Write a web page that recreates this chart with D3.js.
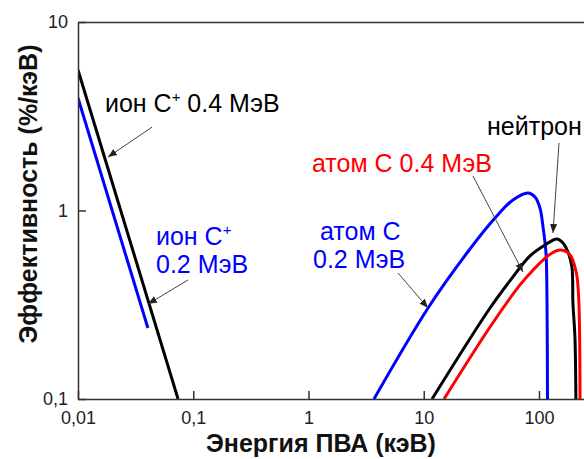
<!DOCTYPE html>
<html>
<head>
<meta charset="utf-8">
<script src="https://cdn.jsdelivr.net/npm/d3@7"></script>
<style>
  body { margin: 0; background: #fff; }
  text { font-family: "Liberation Sans", Arial, sans-serif; }
</style>
</head>
<body>
<div id="chart"></div>
<script>
// Chart data (energy in keV, efficiency in %/keV)
var ion04Energy = [0.01, 0.0738];
var ion04Eff = [5.56, 0.1];

var ion02Energy = [0.01, 0.0404];
var ion02Eff = [3.95, 0.238];

var atom02Energy = [3.7, 10.9, 23.7, 41.5, 59.4, 80.3, 92.3, 102, 108.4, 115, 117.3, 118.5];
var atom02Eff = [0.1, 0.304, 0.595, 0.912, 1.137, 1.239, 1.18, 1.03, 0.818, 0.595, 0.335, 0.1];

var neutronEnergy = [11.8, 37.6, 58.3, 83.6, 112.7, 143, 161.5, 178.5, 193, 197, 205, 209];
var neutronEff = [0.1, 0.304, 0.438, 0.574, 0.656, 0.707, 0.673, 0.602, 0.501, 0.323, 0.213, 0.1];

var atom04Energy = [15.0, 37.6, 68.4, 88.7, 108.4, 129.7, 152, 175, 193, 205, 214, 222, 227];
var atom04Eff = [0.1, 0.241, 0.403, 0.483, 0.546, 0.595, 0.617, 0.602, 0.560, 0.501, 0.444, 0.323, 0.1];

// Tick values
var xTicks = [0.01, 0.1, 1, 10, 100];
var yTicks = [0.1, 1, 10];

// SVG area
var svgWidth = 584;
var svgHeight = 459;

var svg = d3.select("#chart")
  .append("svg")
  .attr("width", svgWidth)
  .attr("height", svgHeight);

// log scales; the x axis runs on past the right edge of the picture
var xScale = d3.scaleLog()
  .domain([0.01, 1000])
  .range([78, 78 + 5 * 115.25]);

var yScale = d3.scaleLog()
  .domain([0.1, 10])
  .range([399, 22]);

var commaFormat = d => String(d).replace(".", ",");

// clip for the curves
svg.append("clipPath")
  .attr("id", "plot-clip")
  .append("rect")
  .attr("x", xScale(0.01))
  .attr("y", yScale(10))
  .attr("width", svgWidth - xScale(0.01))
  .attr("height", yScale(0.1) - yScale(10));

// series
var series = [
  { x: ion04Energy, y: ion04Eff, color: "#000000" },
  { x: ion02Energy, y: ion02Eff, color: "#0000ff" },
  { x: atom02Energy, y: atom02Eff, color: "#0000ff" },
  { x: neutronEnergy, y: neutronEff, color: "#000000" },
  { x: atom04Energy, y: atom04Eff, color: "#ff0000" }
];

var drawLine = d3.line()
  .x(d => xScale(d[0]))
  .y(d => yScale(d[1]))
  .curve(d3.curveCatmullRom.alpha(0.5));

var lineGroup = svg.append("g").attr("clip-path", "url(#plot-clip)");

series.forEach(function(s) {
  lineGroup.append("path")
    .attr("d", drawLine(d3.zip(s.x, s.y)))
    .attr("fill", "none")
    .attr("stroke", s.color)
    .attr("stroke-width", 3)
    .attr("stroke-linejoin", "round");
});

// axes (ticks point inward)
var bottomAxis = d3.axisBottom(xScale)
  .tickValues(xTicks)
  .tickFormat(commaFormat)
  .tickSizeInner(-8)
  .tickSizeOuter(0)
  .tickPadding(12);

var leftAxis = d3.axisLeft(yScale)
  .tickValues(yTicks)
  .tickFormat(commaFormat)
  .tickSizeInner(-8)
  .tickSizeOuter(0)
  .tickPadding(10);

var topAxis = d3.axisTop(xScale)
  .tickValues([])
  .tickSizeOuter(0);

svg.append("g")
  .attr("transform", `translate(0, ${yScale(0.1)})`)
  .call(bottomAxis);

svg.append("g")
  .attr("transform", `translate(${xScale(0.01)}, 0)`)
  .call(leftAxis);

svg.append("g")
  .attr("transform", `translate(0, ${yScale(10)})`)
  .call(topAxis);

svg.selectAll(".domain, .tick line")
  .attr("stroke", "#333")
  .attr("stroke-width", 1.5);

svg.selectAll(".tick text")
  .attr("fill", "#222")
  .style("font-size", "18px")
  .style("font-family", "'Liberation Sans', Arial, sans-serif");

// axis titles
svg.append("text")
  .attr("x", 321)
  .attr("y", 452)
  .attr("text-anchor", "middle")
  .style("font-size", "25px")
  .style("font-weight", "bold")
  .attr("fill", "#111")
  .text("Энергия ПВА (кэВ)");

svg.append("text")
  .attr("transform", "translate(37, 194) rotate(-90)")
  .attr("text-anchor", "middle")
  .style("font-size", "25px")
  .style("font-weight", "bold")
  .attr("fill", "#111")
  .text("Эффективность (%/кэВ)");

// arrowhead marker
svg.append("defs").append("marker")
  .attr("id", "arrow")
  .attr("viewBox", "0 0 10 10")
  .attr("refX", 10)
  .attr("refY", 5)
  .attr("markerWidth", 9)
  .attr("markerHeight", 9)
  .attr("markerUnits", "userSpaceOnUse")
  .attr("orient", "auto")
  .append("path")
  .attr("d", "M0,1 L10,5 L0,9 Z")
  .attr("fill", "#222");

// annotations, placed in data units
var annotations = [
  { lines: [["ион C", "+", " 0.4 МэВ"]], at: [0.01714, 3.33], color: "#000",
    from: [0.0439, 2.77], to: [0.0182, 1.92] },
  { lines: [["ион C", "+", ""], ["0.2 МэВ"]], at: [0.0475, 0.656], color: "#0000ff",
    from: [0.090, 0.428], to: [0.0405, 0.319] },
  { lines: [["атом C"], ["0.2 МэВ"]], at: [1.258, 0.698], color: "#0000ff",
    from: [5.98, 0.466], to: [10.89, 0.304], indent: [0, -7] },
  { lines: [["атом C 0.4 МэВ"]], at: [1.073, 1.60], color: "#ff0000",
    from: [26.75, 1.524], to: [72.6, 0.472] },
  { lines: [["нейтрон"]], at: [35.4, 2.515], color: "#000",
    from: [149.1, 2.281], to: [132.3, 0.76] }
];

annotations.forEach(function(a) {
  svg.append("line")
    .attr("x1", xScale(a.from[0]))
    .attr("y1", yScale(a.from[1]))
    .attr("x2", xScale(a.to[0]))
    .attr("y2", yScale(a.to[1]))
    .attr("stroke", "#444")
    .attr("stroke-width", 1)
    .attr("marker-end", "url(#arrow)");

  a.lines.forEach(function(parts, i) {
    var t = svg.append("text")
      .attr("x", xScale(a.at[0]) + (a.indent ? a.indent[i] : 0))
      .attr("y", yScale(a.at[1]) + i * 28)
      .attr("fill", a.color)
      .style("font-size", "25px");
    t.append("tspan").text(parts[0]);
    if (parts.length > 1) {
      t.append("tspan").attr("dy", -10).style("font-size", "15px").text(parts[1]);
      t.append("tspan").attr("dy", 10).text(parts[2]);
    }
  });
});
</script>
</body>
</html>
